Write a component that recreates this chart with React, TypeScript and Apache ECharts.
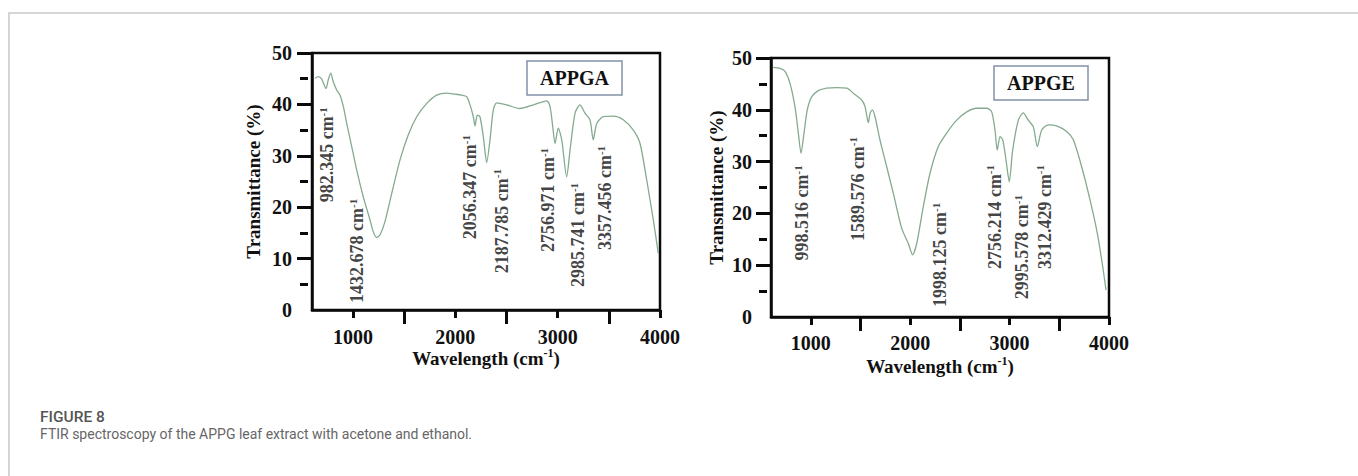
import React, { useEffect, useRef } from 'react';
import * as echarts from 'echarts';

const SERIF = '"Liberation Serif", "Times New Roman", serif';
const SANS = 'Roboto, "Noto Sans", sans-serif';

// Axis ranges and ticks
const xMin = 600;
const xMax = 4000;
const xLabelTicks = [1000, 2000, 3000, 4000];
const xMinorTicks = [1500, 2500, 3500];
const yMin = 0;
const yMax = 50;
const yLabelTicks = [0, 10, 20, 30, 40, 50];
const yMajorTicks = [10, 20, 30, 40, 50];
const yMinorTicks = [5, 15, 25, 35, 45];

// APPGA spectrum (acetone extract)
const appgaWavenumber = [629, 662, 695, 737, 759, 783, 808, 841, 874, 906, 939, 988, 1037, 1101, 1167, 1199, 1232, 1264, 1313, 1379, 1460, 1541, 1623, 1721, 1818, 1916, 1997, 2063, 2111, 2144, 2176, 2193, 2215, 2241, 2274, 2307, 2339, 2371, 2405, 2502, 2632, 2762, 2893, 2925, 2952, 2974, 3006, 3040, 3088, 3121, 3170, 3218, 3267, 3316, 3348, 3382, 3446, 3544, 3641, 3739, 3805, 3870, 3935, 3983];
const appgaTransmittance = [45.1, 45.4, 44.9, 43.1, 44.8, 46.1, 44.4, 42.8, 41.8, 39.6, 36.3, 31.8, 27.2, 22.0, 17.5, 15.2, 14.1, 14.6, 17.2, 22.7, 29.2, 34.1, 37.6, 40.2, 41.8, 42.2, 42.0, 41.8, 41.5, 39.9, 37.6, 35.8, 37.9, 37.6, 33.7, 28.7, 33.1, 38.9, 40.3, 39.9, 39.2, 39.9, 40.7, 39.6, 35.7, 32.4, 35.4, 33.1, 25.9, 31.1, 38.3, 39.9, 38.3, 37.0, 33.1, 36.3, 37.6, 37.7, 37.0, 35.0, 32.4, 25.3, 17.5, 11.0];

// APPGE spectrum (ethanol extract)
const appgeWavenumber = [623, 691, 741, 791, 841, 875, 902, 932, 965, 1009, 1076, 1160, 1261, 1362, 1428, 1512, 1546, 1579, 1596, 1619, 1646, 1696, 1764, 1830, 1915, 1981, 2025, 2066, 2132, 2199, 2283, 2367, 2468, 2569, 2669, 2770, 2820, 2853, 2876, 2904, 2931, 2964, 2997, 3031, 3088, 3138, 3188, 3239, 3279, 3323, 3389, 3474, 3574, 3641, 3725, 3809, 3882, 3937, 3970];
const appgeTransmittance = [48.2, 48.0, 47.4, 45.1, 40.6, 35.5, 31.6, 35.5, 40.0, 42.5, 43.7, 44.2, 44.3, 44.2, 43.2, 41.9, 40.6, 37.5, 39.3, 40.0, 38.7, 34.2, 29.0, 23.9, 17.1, 14.2, 12.0, 14.2, 21.3, 27.7, 32.9, 35.5, 38.0, 39.6, 40.3, 40.3, 39.6, 36.1, 32.2, 34.8, 34.2, 30.3, 26.1, 32.2, 38.0, 39.4, 38.0, 36.7, 32.9, 36.1, 37.1, 36.9, 35.8, 34.2, 29.0, 22.6, 16.2, 9.7, 5.2];

// Peak annotations (text, and the data position of the centre of each rotated label)
const appgaPeakText = ['982.345', '1432.678', '2056.347', '2187.785', '2756.971', '2985.741', '3357.456'];
const appgaPeakLabelX = [747, 1040, 2144, 2456, 2906, 3199, 3463];
const appgaPeakLabelY = [30.2, 11.5, 23.9, 17.3, 21.4, 14.6, 21.8];

const appgePeakText = ['998.516', '1589.576', '1998.125', '2756.214', '2995.578', '3312.429'];
const appgePeakLabelX = [912, 1475, 2300, 2853, 3125, 3356];
const appgePeakLabelY = [20.1, 24.7, 12.0, 19.3, 13.5, 19.3];

const panelNames = ['APPGA', 'APPGE'];
const captionTitle = 'FIGURE 8';
const captionText = 'FTIR spectroscopy of the APPG leaf extract with acetone and ethanol.';
const xAxisTitle = 'Wavelength (cm';
const yAxisTitle = 'Transmittance (%)';

const LINE_COLOR = '#84aa8f';
const AXIS_COLOR = '#0a0a0a';

const zip = (xs: number[], ys: number[]) => xs.map((x, i) => [x, ys[i]]);

const richSup = (size: number, supSize: number, lh: number) => ({
  a: { fontFamily: SERIF, fontWeight: 'bold', fontSize: size, color: '#111', lineHeight: lh },
  s: { fontFamily: SERIF, fontWeight: 'bold', fontSize: supSize, color: '#111', lineHeight: lh, verticalAlign: 'top' },
});

function gridAxes(gridIndex: number, cfg: { xLabelMargin: number; xNameGap: number; yLabelMargin: number; yNameGap: number }) {
  const x = [
    {
      gridIndex,
      type: 'value',
      position: 'bottom',
      min: xMin,
      max: xMax,
      axisLine: { show: true, onZero: false, lineStyle: { color: AXIS_COLOR, width: 2.5 } },
      axisTick: { show: true, customValues: xLabelTicks, length: 8, lineStyle: { color: AXIS_COLOR, width: 3 } },
      axisLabel: {
        show: true,
        customValues: xLabelTicks,
        formatter: (v: number) => String(v),
        margin: cfg.xLabelMargin,
        fontFamily: SERIF,
        fontWeight: 'bold',
        fontSize: 20,
        color: '#111',
        showMinLabel: true,
        showMaxLabel: true,
        hideOverlap: false,
      },
      splitLine: { show: false },
      name: `{a|${xAxisTitle}}{s|-1}{a|)}`,
      nameLocation: 'middle',
      nameGap: cfg.xNameGap,
      nameMoveOverlap: false,
      nameTextStyle: { fontWeight: 'bold', rich: richSup(19, 12, 22) },
    },
    {
      gridIndex,
      type: 'value',
      position: 'bottom',
      min: xMin,
      max: xMax,
      axisLine: { show: false, onZero: false },
      axisTick: { show: true, customValues: xMinorTicks, length: 14, lineStyle: { color: AXIS_COLOR, width: 3 } },
      axisLabel: { show: false },
      splitLine: { show: false },
    },
  ];
  const y = [
    {
      gridIndex,
      type: 'value',
      position: 'left',
      min: yMin,
      max: yMax,
      axisLine: { show: true, onZero: false, lineStyle: { color: AXIS_COLOR, width: 2.5 } },
      axisTick: { show: true, customValues: yMajorTicks, length: 15, lineStyle: { color: AXIS_COLOR, width: 3 } },
      axisLabel: {
        show: true,
        customValues: yLabelTicks,
        formatter: (v: number) => String(v),
        margin: cfg.yLabelMargin,
        fontFamily: SERIF,
        fontWeight: 'bold',
        fontSize: 20,
        color: '#111',
        showMinLabel: true,
        showMaxLabel: true,
      },
      splitLine: { show: false },
      name: yAxisTitle,
      nameLocation: 'middle',
      nameGap: cfg.yNameGap,
      nameRotate: 90,
      nameMoveOverlap: false,
      nameTextStyle: { fontFamily: SERIF, fontWeight: 'bold', fontSize: 19, color: '#111' },
    },
    {
      gridIndex,
      type: 'value',
      position: 'left',
      offset: 4,
      min: yMin,
      max: yMax,
      axisLine: { show: false, onZero: false },
      axisTick: { show: true, customValues: yMinorTicks, length: 8, lineStyle: { color: AXIS_COLOR, width: 3 } },
      axisLabel: { show: false },
      splitLine: { show: false },
    },
  ];
  return { x, y };
}

function peakSeries(axisIndex: number, texts: string[], xs: number[], ys: number[]) {
  return {
    type: 'scatter',
    xAxisIndex: axisIndex,
    yAxisIndex: axisIndex,
    silent: true,
    symbolSize: 1,
    itemStyle: { color: 'rgba(0,0,0,0)' },
    data: texts.map((t, i) => ({ value: [xs[i], ys[i]], name: t })),
    label: {
      show: true,
      position: 'inside',
      rotate: 90,
      fontWeight: 'bold',
      fontFamily: SERIF,
      formatter: (p: any) => `{a|${p.name} cm}{s|-1}`,
      rich: richSup(18, 11, 20),
    },
    emphasis: { disabled: true },
    z: 5,
  };
}

export default function App() {
  const ref = useRef<HTMLDivElement>(null);

  useEffect(() => {
    if (!ref.current) return;
    const chart = echarts.init(ref.current, undefined, { renderer: 'svg' });

    const a = gridAxes(0, { xLabelMargin: 17, xNameGap: 37, yLabelMargin: 20, yNameGap: 49 });
    const e = gridAxes(1, { xLabelMargin: 16, xNameGap: 38, yLabelMargin: 19, yNameGap: 45 });

    const boxTitle = (text: string, left: number, top: number) => ({
      text,
      left,
      top,
      padding: [6, 13, 6, 13],
      borderColor: '#8391a6',
      borderWidth: 1.5,
      textStyle: { fontFamily: SERIF, fontWeight: 'bold', fontSize: 20, color: '#111', lineHeight: 22 },
    });

    const option: any = {
      animation: false,
      backgroundColor: '#ffffff',
      title: [
        boxTitle(panelNames[0], 527, 61),
        boxTitle(panelNames[1], 994, 66),
        {
          text: captionTitle,
          left: 40,
          top: 409,
          padding: 0,
          textStyle: { fontFamily: SANS, fontWeight: 500, fontSize: 15.5, color: '#555' },
        },
        {
          text: captionText,
          left: 40,
          top: 427,
          padding: 0,
          textStyle: { fontFamily: SANS, fontWeight: 'normal', fontSize: 14, color: '#666' },
        },
      ],
      graphic: [
        {
          type: 'rect',
          silent: true,
          shape: { x: 9, y: 13, width: 1400, height: 520 },
          style: { fill: 'none', stroke: '#c8c8c8', lineWidth: 1.5 },
        },
      ],
      grid: [
        { left: 312, top: 53, width: 348, height: 257, show: true, borderColor: AXIS_COLOR, borderWidth: 2.5, backgroundColor: 'transparent', containLabel: false, outerBoundsMode: 'none' },
        { left: 771, top: 58, width: 338, height: 259, show: true, borderColor: AXIS_COLOR, borderWidth: 2.5, backgroundColor: 'transparent', containLabel: false, outerBoundsMode: 'none' },
      ],
      xAxis: [...a.x, ...e.x],
      yAxis: [...a.y, ...e.y],
      series: [
        {
          type: 'line',
          xAxisIndex: 0,
          yAxisIndex: 0,
          data: zip(appgaWavenumber, appgaTransmittance),
          showSymbol: false,
          smooth: 0.25,
          silent: true,
          lineStyle: { color: LINE_COLOR, width: 1.3 },
        },
        {
          type: 'line',
          xAxisIndex: 2,
          yAxisIndex: 2,
          data: zip(appgeWavenumber, appgeTransmittance),
          showSymbol: false,
          smooth: 0.25,
          silent: true,
          lineStyle: { color: LINE_COLOR, width: 1.3 },
        },
        peakSeries(0, appgaPeakText, appgaPeakLabelX, appgaPeakLabelY),
        peakSeries(2, appgePeakText, appgePeakLabelX, appgePeakLabelY),
      ],
    };

    chart.setOption(option);
    return () => chart.dispose();
  }, []);

  return (
    <div
      ref={ref}
      style={{ position: 'fixed', left: 0, top: 0, width: 1358, height: 476, background: '#fff' }}
    />
  );
}
